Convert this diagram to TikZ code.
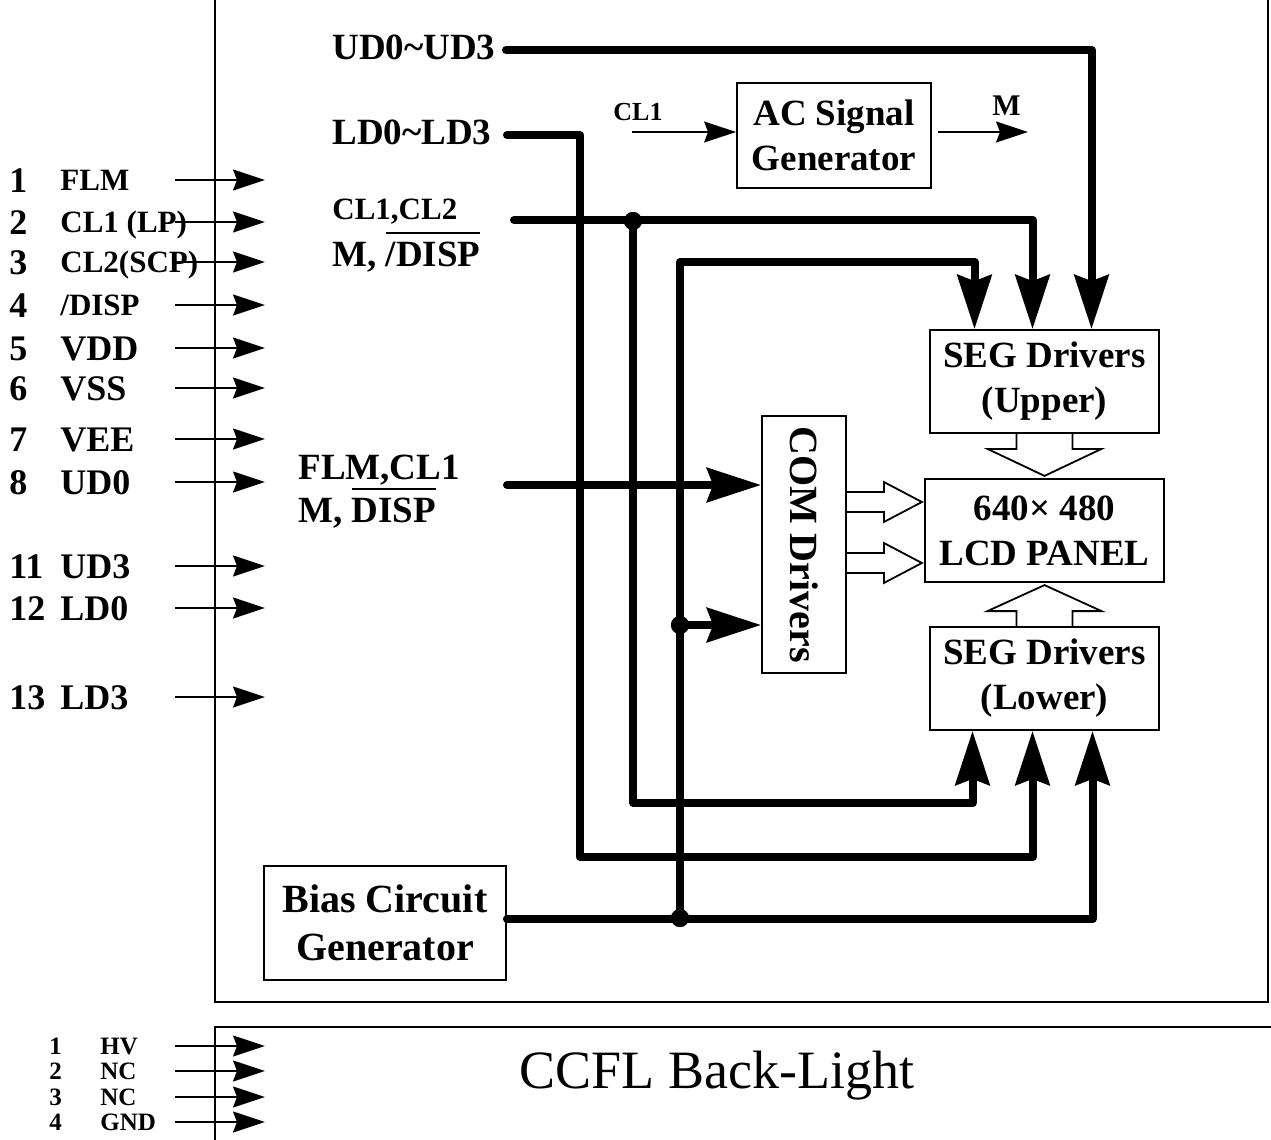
\documentclass[tikz,border=0pt]{standalone}
\usepackage{fontspec}
\setmainfont{Liberation Serif}
\usepackage{tikz}
\usetikzlibrary{
    arrows.meta,
    calc
}
\newcommand{\mainlbl}{\fontsize{18.5}{22.5}\selectfont\bfseries}
\newcommand{\pinlbl}{\fontsize{18}{21}\selectfont\bfseries}
\newcommand{\smalllbl}{\fontsize{15.5}{18}\selectfont\bfseries}
\newcommand{\ccfllbl}{\fontsize{12.5}{14}\selectfont\bfseries}
\newcommand{\barred}[1]{\vbox{\hrule height 1pt\kern 4pt\hbox{#1}}}
\tikzset{
    block/.style={
        rectangle,
        draw=black,
        line width=0.9pt,
        align=center,
        inner sep=0pt,
        font=\mainlbl
    },
    sigtext/.style={
        anchor=west,
        inner sep=0pt,
        text height=12pt,
        text depth=0pt,
        font=\mainlbl
    },
    pinarrow/.style={
        -{Stealth[length=16pt, width=10.5pt, inset=2pt]},
        line width=0.75pt
    },
    bus/.style={
        line width=4pt,
        line cap=round,
        line join=round
    },
    busarrow/.style={
        bus,
        -{Stealth[length=27pt, width=17pt, inset=3pt]}
    },
    junction/.style={
        circle,
        fill=black,
        inner sep=0pt,
        minimum size=9pt
    },
    hollow/.style={
        draw=black,
        line width=0.9pt,
        line join=miter
    }
}

\begin{document}
\begin{tikzpicture}[x=0.5pt, y=-0.5pt]
\useasboundingbox (0,0) rectangle (1271,1140);

% frames
\draw[line width=0.9pt] (215,-5) rectangle (1268,1002);
\draw[line width=0.9pt] (215,1027) rectangle (1290,1160);

% pins of the LCD module
\foreach \n/\name/\y in {1/FLM/180, 2/CL1 (LP)/222, 3/CL2(SCP)/262, 4/{/DISP}/305} {
    \node[sigtext, font=\pinlbl] (num\n) at (9,\y) {\n};
    \node[sigtext, font=\smalllbl, text height=10pt] (name\n) at (60,\y) {\name};
    \draw[pinarrow] (175,\y) -- (265,\y);
}
\foreach \n/\name/\y in {5/VDD/348, 6/VSS/388, 7/VEE/439, 8/UD0/482, 11/UD3/566, 12/LD0/608, 13/LD3/697} {
    \node[sigtext, font=\pinlbl] (num\n) at (9,\y) {\n};
    \node[sigtext, font=\pinlbl] (name\n) at (60,\y) {\name};
    \draw[pinarrow] (175,\y) -- (265,\y);
}

% pins of the back-light
\foreach \n/\name/\y in {1/HV/1046, 2/NC/1071, 3/NC/1097, 4/GND/1122} {
    \node[sigtext, font=\ccfllbl, text height=8.3pt] (bnum\n) at (49,\y) {\n};
    \node[sigtext, font=\ccfllbl, text height=8.3pt] (bname\n) at (100,\y) {\name};
    \draw[pinarrow] (175,\y) -- (265,\y);
}
\node[font=\fontsize{27}{30}\selectfont] (ccfl) at (717,1076) {CCFL Back-Light};

% blocks
\node[block, minimum width=97pt, minimum height=52.5pt] (ac) at (834,135.5) {AC Signal\\Generator};
\node[block, minimum width=114.5pt, minimum height=51.5pt] (segU) at (1044.5,381.5) {SEG Drivers\\(Upper)};
\node[block, minimum width=119.5pt, minimum height=51.5pt] (lcd) at (1044.5,530.5) {640× 480\\LCD PANEL};
\node[block, minimum width=114.5pt, minimum height=51.5pt] (segL) at (1044.5,678.5) {SEG Drivers\\(Lower)};
\node[block, rotate=-90, minimum width=128.5pt, minimum height=42pt, font=\fontsize{20}{24}\selectfont\bfseries] (com) at (804,544.5) {COM Drivers};
\node[block, minimum width=121pt, minimum height=57pt, font=\fontsize{20}{24}\selectfont\bfseries] (bias) at (385,923) {Bias Circuit\\Generator};

% signal names
\node[sigtext] (ud) at (332,48) {UD0\textasciitilde UD3};
\node[sigtext] (ld) at (332,132) {LD0\textasciitilde LD3};
\node[sigtext, font=\smalllbl, text height=10pt] (clkA) at (332,209) {CL1,CL2};
\node[sigtext] (clkB) at (332,254) {M, \barred{/DISP}};
\node[sigtext] (comA) at (298,467) {FLM,CL1};
\node[sigtext] (comB) at (298,510) {M, \barred{DISP}};
\node[sigtext, font=\fontsize{13}{15}\selectfont\bfseries, text height=8.6pt] (cl1) at (613,112) {CL1};
\node[sigtext, font=\fontsize{15}{17}\selectfont\bfseries, text height=10pt] (m) at (992,105) {M};

% bus entry points
\coordinate (udin) at (506,50);
\coordinate (ldin) at (507,135);
\coordinate (clkin) at (514,220);
\coordinate (comin) at (507,485);
\coordinate (cl1in) at (632,132);
\coordinate (mout) at (1028,132);
\coordinate (uA) at ($(segU.north)+(-70,0)$);
\coordinate (uB) at ($(segU.north)+(-12,0)$);
\coordinate (uC) at ($(segU.north)+(47,0)$);
\coordinate (lA) at ($(segL.south)+(-72,0)$);
\coordinate (lB) at ($(segL.south)+(-12,0)$);
\coordinate (lC) at ($(segL.south)+(48,0)$);

\node[junction] (j1) at (633,221) {};
\node[junction] (j2) at (680,625) {};
\node[junction] (j3) at (680,918) {};

% AC signal generator
\draw[pinarrow] (cl1in) -- (cl1in -| ac.west);
\draw[pinarrow, shorten <=3pt] (ac.east |- mout) -- (mout);

% buses
\draw[busarrow] (udin) -| (uC);
\draw[busarrow] (ldin) -| (580,857) -| (lB);
\draw[busarrow] (clkin) -| (uB);
\draw[busarrow] (j1.center) |- (lA |- 0,803) -- (lA);
\draw[busarrow] ([yshift=2pt]bias.east) -| (lC);
\draw[busarrow] (j3.center) -- (680,262) -| (uA);
\draw[busarrow] (j2.center) -- (com.south |- j2);
\draw[busarrow] (comin) -- (comin -| com.south);

% hollow arrows into the panel
\draw[hollow] (segU.south) ++(-28,0) -- ++(0,15) -- ++(-29,0) -- ++(57,27) -- ++(57,-27) -- ++(-29,0) -- ++(0,-15);
\draw[hollow] (segL.north) ++(-28,0) -- ++(0,-15) -- ++(-29,0) -- ++(57,-26) -- ++(57,26) -- ++(-29,0) -- ++(0,15);
\foreach \yy in {502,563} {
    \draw[hollow] (com.north |- 0,\yy) ++(0,-10) -- ++(37,0) -- ++(0,-10) -- ++(38,20) -- ++(-38,20) -- ++(0,-10) -- ++(-37,0);
}

\node[junction] at (j1) {};
\node[junction] at (j2) {};
\node[junction] at (j3) {};

\end{tikzpicture}
\end{document}
